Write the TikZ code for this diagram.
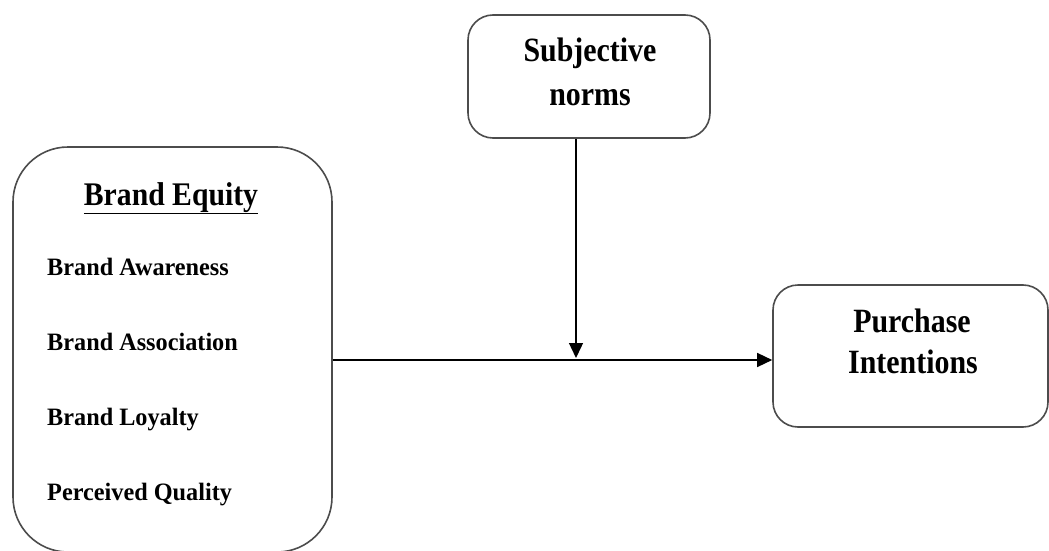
\documentclass[tikz,border=0pt]{standalone}
\usepackage{fontspec}
\setmainfont{Liberation Serif}
\usetikzlibrary{arrows.meta}
\newcommand{\nt}[1]{\scalebox{0.88}[1]{#1}}
\begin{document}
\begin{tikzpicture}[x=1pt,y=-1pt,
  box/.style={draw=black!70, line width=1.6pt, fill=none, inner sep=0pt},
  lbl/.style={inner sep=0pt, font=\bfseries, anchor=base},
  item/.style={inner sep=0pt, font=\bfseries\fontsize{25}{30}\selectfont, anchor=base west},
  conn/.style={draw=black, line width=1.4pt, -{Triangle[length=15pt,width=14pt]}}]
\useasboundingbox (0,0) rectangle (1049,551);
% boxes
\node[box, rounded corners=55pt, minimum width=319pt, minimum height=405pt] (BE) at (172.5,349.5) {};
\node[box, rounded corners=25pt, minimum width=242pt, minimum height=123pt] (SN) at (589,76.5) {};
\node[box, rounded corners=25pt, minimum width=275pt, minimum height=142pt] (PI) at (910.5,356) {};
% texts
\node[lbl, font=\bfseries\fontsize{33}{38}\selectfont] (BEt) at (171,205) {\scalebox{0.9}[1]{\underline{Brand Equity}}};
\node[item] (i1) at (47,275) {\scalebox{0.97}[1]{Brand Awareness}};
\node[item] (i2) at (47,350) {\scalebox{0.97}[1]{Brand Association}};
\node[item] (i3) at (47,425) {\scalebox{0.97}[1]{Brand Loyalty}};
\node[item] (i4) at (47,500) {\scalebox{0.97}[1]{Perceived Quality}};
\node[lbl, font=\bfseries\fontsize{34}{40}\selectfont] (SN1) at (590,62) {\nt{Subjective}};
\node[lbl, font=\bfseries\fontsize{34}{40}\selectfont] (SN2) at (590,105) {\nt{norms}};
\node[lbl, font=\bfseries\fontsize{34}{40}\selectfont] (PI1) at (912,332) {\nt{Purchase}};
\node[lbl, font=\bfseries\fontsize{34}{40}\selectfont] (PI2) at (913,373) {\nt{Intentions}};
% connectors
\coordinate (J) at (576,358);
\coordinate (H) at (576,360);
\draw[conn] (BE.east |- H) -- (PI.west |- H);
\draw[conn] (SN.south -| J) -- (J);
\end{tikzpicture}
\end{document}
